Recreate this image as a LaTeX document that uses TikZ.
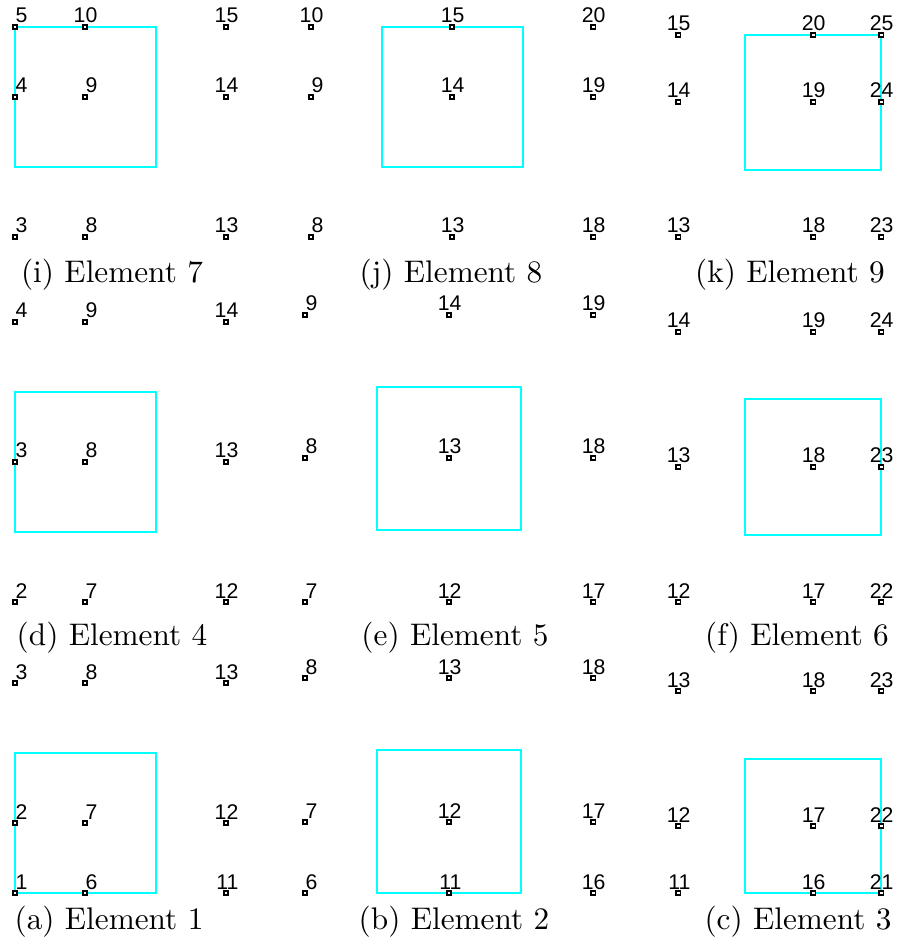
\documentclass[tikz,border=0pt]{standalone}
\usepackage{fontspec}
\newfontfamily\numfont{Liberation Sans}
\definecolor{boxcyan}{RGB}{0,255,255}
\tikzset{
  x=0.32pt, y=-0.32pt,
  marker/.style={draw=black, fill=white, rectangle, inner sep=0pt, minimum size=1.5pt, line width=0.55pt},
  numlab/.style={anchor=base east, inner sep=0pt, font=\numfont\fontsize{6.8}{7}\selectfont},
  elbox/.style={draw=boxcyan, line width=0.8pt},
  caption/.style={anchor=base, inner sep=0pt, font=\fontsize{10}{12}\selectfont}
}
% #1 panel id, #2 column x list, #3 row y list
\newcommand\elpanel[3]{%
  \foreach \cx [count=\ci] in {#2} {
    \foreach \cy [count=\ri] in {#3} {
      \pgfmathtruncatemacro\lab{\csname lbl#1\ci\endcsname-\ri+1}
      \node[marker] (m#1-\ci-\ri) at (\cx,\cy) {};
      \node[numlab] (l#1-\ci-\ri) at (\cx+13,\cy-4) {\lab};
    }
  }
}
\begin{document}
\begin{tikzpicture}
\useasboundingbox (0,0) rectangle (897,947);
% label tables (top label of each column)
\expandafter\def\csname lbli1\endcsname{5}\expandafter\def\csname lbli2\endcsname{10}\expandafter\def\csname lbli3\endcsname{15}
\expandafter\def\csname lblj1\endcsname{10}\expandafter\def\csname lblj2\endcsname{15}\expandafter\def\csname lblj3\endcsname{20}
\expandafter\def\csname lblk1\endcsname{15}\expandafter\def\csname lblk2\endcsname{20}\expandafter\def\csname lblk3\endcsname{25}
\expandafter\def\csname lbld1\endcsname{4}\expandafter\def\csname lbld2\endcsname{9}\expandafter\def\csname lbld3\endcsname{14}
\expandafter\def\csname lble1\endcsname{9}\expandafter\def\csname lble2\endcsname{14}\expandafter\def\csname lble3\endcsname{19}
\expandafter\def\csname lblf1\endcsname{14}\expandafter\def\csname lblf2\endcsname{19}\expandafter\def\csname lblf3\endcsname{24}
\expandafter\def\csname lbla1\endcsname{3}\expandafter\def\csname lbla2\endcsname{8}\expandafter\def\csname lbla3\endcsname{13}
\expandafter\def\csname lblb1\endcsname{8}\expandafter\def\csname lblb2\endcsname{13}\expandafter\def\csname lblb3\endcsname{18}
\expandafter\def\csname lblc1\endcsname{13}\expandafter\def\csname lblc2\endcsname{18}\expandafter\def\csname lblc3\endcsname{23}

% element boxes
\draw[elbox] (15,27) rectangle (156,167);
\draw[elbox] (382,27) rectangle (523,167);
\draw[elbox] (745,35) rectangle (881,170);
\draw[elbox] (15,392) rectangle (156,532);
\draw[elbox] (377,387) rectangle (521,530);
\draw[elbox] (745,399) rectangle (881,535);
\draw[elbox] (15,753) rectangle (156,893);
\draw[elbox] (377,750) rectangle (521,893);
\draw[elbox] (745,759) rectangle (881,893);

% nodes
\elpanel{i}{15,85,226}{27,97,237}
\elpanel{j}{311,452,593}{27,97,237}
\elpanel{k}{678,813,881}{35,102,237}
\elpanel{d}{15,85,226}{322,462,602}
\elpanel{e}{305,449,593}{315,458,602}
\elpanel{f}{678,813,881}{332,467,602}
\elpanel{a}{15,85,226}{683,823,893}
\elpanel{b}{305,449,593}{678,822,893}
\elpanel{c}{678,813,881}{691,826,893}

% captions
\node[caption] (capi) at (112,283) {(i) Element 7};
\node[caption] (capj) at (451,283) {(j) Element 8};
\node[caption] (capk) at (790,283) {(k) Element 9};
\node[caption] (capd) at (112,645) {(d) Element 4};
\node[caption] (cape) at (455,645) {(e) Element 5};
\node[caption] (capf) at (797,645) {(f) Element 6};
\node[caption] (capa) at (109,929) {(a) Element 1};
\node[caption] (capb) at (454,929) {(b) Element 2};
\node[caption] (capc) at (798,929) {(c) Element 3};
\end{tikzpicture}
\end{document}
